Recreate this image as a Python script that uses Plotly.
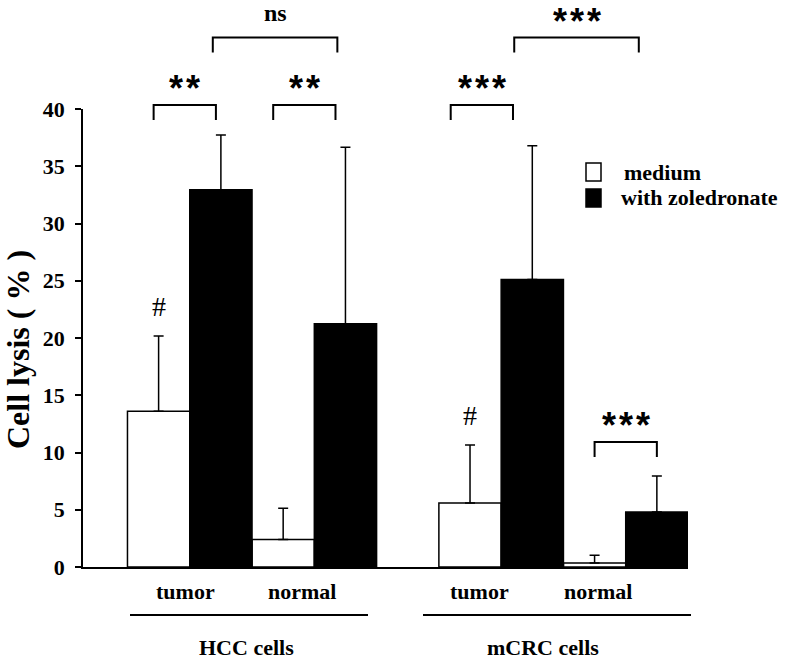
import plotly.graph_objects as go

# ---------------- data ----------------
groups = ["HCC cells", "mCRC cells"]
tissues = ["tumor", "normal"]
treatments = ["medium", "with zoledronate"]

# order: HCC tumor, HCC normal, mCRC tumor, mCRC normal
medium_mean = [13.6, 2.4, 5.6, 0.36]
medium_err = [6.57, 2.74, 5.06, 0.67]
zol_mean = [32.95, 21.25, 25.1, 4.8]
zol_err = [4.78, 15.4, 11.7, 3.15]

y_ticks = [0, 5, 10, 15, 20, 25, 30, 35, 40]

# significance brackets: (bar slot a, bar slot b, shift in slots, top level, label)
brackets = [
    (0, 1, -0.08, 40.35, "**"),
    (2, 3, -0.16, 40.35, "**"),
    (1, 3, -0.13, 46.25, "ns"),
    (5, 6, -0.31, 40.35, "***"),
    (6, 8, -0.29, 46.25, "***"),
    (7, 8, 0.0, 10.92, "***"),
]

# ---------------- geometry ----------------
W, H = 786, 660
ML, MR, MT, MB = 83, 98, 109, 93
XMIN, XMAX = -1.214, 8.5
YMIN, YMAX = 0, 40

slots_med, slots_zol = [], []
for g in range(len(groups)):
    for t in range(len(tissues)):
        slots_med.append(g * 5 + t * 2)
        slots_zol.append(g * 5 + t * 2 + 1)

pw = W - ML - MR
ph = H - MT - MB


def xpd(xd):  # data x -> paper
    return (xd - XMIN) / (XMAX - XMIN)


def ypd(yd):  # data y -> paper
    return (yd - YMIN) / (YMAX - YMIN)


def xpp(px):  # pixel x -> paper
    return (px - ML) / pw


def ypp(py):  # pixel y -> paper
    return (H - MB - py) / ph


px_per_unit_y = ph / (YMAX - YMIN)

SERIF = "Liberation Serif"
SANS = "Liberation Sans"

fig = go.Figure()
fig.add_trace(go.Bar(
    x=slots_med, y=medium_mean, width=1, name=treatments[0],
    marker=dict(color="white", line=dict(color="black", width=1.5)),
    error_y=dict(type="data", array=medium_err, arrayminus=[0] * 4, symmetric=False,
                 color="black", thickness=1.5, width=5),
    hoverinfo="skip",
))
fig.add_trace(go.Bar(
    x=slots_zol, y=zol_mean, width=1, name=treatments[1],
    marker=dict(color="black", line=dict(color="black", width=1.5)),
    error_y=dict(type="data", array=zol_err, arrayminus=[0] * 4, symmetric=False,
                 color="black", thickness=1.5, width=5),
    hoverinfo="skip",
))

shapes = []
annotations = []
LW = 2
leg_units = 15 / px_per_unit_y
STARSEP = "\u200a"


def ann(x, y, text, font, xanchor="center", yanchor="middle", **kw):
    d = dict(xref="paper", yref="paper", x=x, y=y, text=text, showarrow=False,
             xanchor=xanchor, yanchor=yanchor, font=font)
    d.update(kw)
    annotations.append(d)


for a, b, shift, top, label in brackets:
    x0 = xpd(a + shift)
    x1 = xpd(b + shift)
    yt = ypd(top)
    yb = ypd(top - leg_units)
    shapes.append(dict(type="path", xref="paper", yref="paper",
                       path=f"M {x0} {yb} L {x0} {yt} L {x1} {yt} L {x1} {yb}",
                       line=dict(color="black", width=LW)))
    xc = (x0 + x1) / 2
    if label == "ns":
        ann(xc, yt + 24 / ph, "<b>ns</b>", dict(family=SERIF, size=24, color="black"))
    else:
        ann(xc, yt + 16 / ph, STARSEP.join(label),
            dict(family=SANS, size=36, color="black", weight="bold"))

# "#" marks above medium tumor bars
for i in (0, 2):
    ann(xpd(slots_med[i]), ypd(medium_mean[i] + medium_err[i]) + 12 / ph, "#",
        dict(family=SERIF, size=28, color="black"), yanchor="bottom")

# tissue labels
tissue_px = [185, 302, 480, 598]
for i, px in enumerate(tissue_px):
    ann(xpp(px), ypp(591), f"<b>{tissues[i % 2]}</b>", dict(family=SERIF, size=22, color="black"))

# group lines and labels
group_lines = [(130, 368), (423, 691)]
group_label_px = [246.5, 542.5]
for g in range(len(groups)):
    l0, l1 = group_lines[g]
    shapes.append(dict(type="line", xref="paper", yref="paper",
                       x0=xpp(l0), x1=xpp(l1), y0=ypp(615), y1=ypp(615),
                       line=dict(color="black", width=2)))
    ann(xpp(group_label_px[g]), ypp(647), f"<b>{groups[g]}</b>",
        dict(family=SERIF, size=22, color="black"))

# legend (manual)
leg = [("white", 163, 181, treatments[0], 622), ("black", 189, 207, treatments[1], 619)]
for color, yt, yb, txt, tx in leg:
    shapes.append(dict(type="rect", xref="paper", yref="paper",
                       x0=xpp(586), x1=xpp(601), y0=ypp(yb), y1=ypp(yt),
                       fillcolor=color, line=dict(color="black", width=1.5)))
    ann(xpp(tx), ypp((yt + yb) / 2), f"<b>{txt}</b>",
        dict(family=SERIF, size=22, color="black"), xanchor="left")

# y-axis title
ann(xpp(18), ypp(350), "<b>Cell lysis ( % )</b>",
    dict(family=SERIF, size=32, color="black"), textangle=-90)

fig.update_layout(
    width=W, height=H,
    margin=dict(l=ML, r=MR, t=MT, b=MB),
    paper_bgcolor="white", plot_bgcolor="white",
    showlegend=False, barmode="overlay", hovermode=False,
    shapes=shapes, annotations=annotations,
    xaxis=dict(range=[XMIN, XMAX], showline=True, linecolor="black", linewidth=1.5,
               showticklabels=False, ticks="", showgrid=False, zeroline=False, fixedrange=True),
    yaxis=dict(range=[YMIN, YMAX], tickvals=y_ticks, ticks="outside", ticklen=6, tickwidth=1.5,
               tickcolor="black", showline=True, linecolor="black", linewidth=1.5,
               showgrid=False, zeroline=False, ticklabelstandoff=6, fixedrange=True,
               tickfont=dict(family=SERIF, size=22, color="black", weight="bold")),
)

fig.write_html("out.html", config={"displayModeBar": False},
               post_script="document.body.style.margin='0';document.body.style.padding='0';")
